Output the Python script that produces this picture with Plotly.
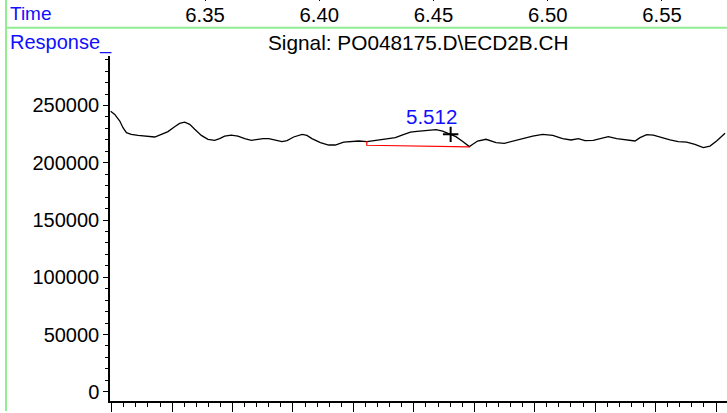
import plotly.graph_objects as go

W, H = 727, 413

# chromatogram trace (time in min, detector response)
time = [6.3087, 6.3105, 6.3127, 6.3141, 6.3156, 6.3177, 6.3207, 6.3236, 6.3265, 6.3280,
        6.3309, 6.3338, 6.3367, 6.3389, 6.3411, 6.3433, 6.3455, 6.3484, 6.3513, 6.3542,
        6.3564, 6.3586, 6.3615, 6.3644, 6.3674, 6.3703, 6.3732, 6.3754, 6.3779, 6.3808,
        6.3837, 6.3859, 6.3888, 6.3925, 6.3946, 6.3968, 6.4005, 6.4041, 6.4070, 6.4107,
        6.4143, 6.4173, 6.4209, 6.4245, 6.4289, 6.4333, 6.4362, 6.4399, 6.4428, 6.4467,
        6.4511, 6.4540, 6.4569, 6.4598, 6.4628, 6.4657, 6.4672, 6.4693, 6.4730, 6.4774,
        6.4810, 6.4847, 6.4890, 6.4934, 6.4978, 6.5022, 6.5065, 6.5102, 6.5134, 6.5163,
        6.5199, 6.5229, 6.5265, 6.5302, 6.5346, 6.5382, 6.5404, 6.5433, 6.5462, 6.5499,
        6.5535, 6.5571, 6.5608, 6.5644, 6.5681, 6.5710, 6.5739, 6.5776]
response = [245000, 242200, 236400, 230600, 226300, 224800, 223900, 223300, 222500, 222500,
            224800, 227200, 231500, 234400, 235500, 233500, 229200, 223900, 220500, 219600,
            221100, 223300, 224200, 223300, 221100, 219600, 220500, 221100, 221100, 219900,
            218500, 219300, 222500, 224800, 223900, 221100, 217600, 215500, 215500, 218100,
            218500, 219000, 218500, 219300, 220500, 221900, 224200, 226800, 227400, 228300,
            228900, 227700, 225400, 222800, 218500, 214100, 216100, 219000, 220500, 217600,
            217000, 219000, 221300, 223300, 224800, 223900, 221100, 219900, 221100, 219300,
            219600, 221300, 222800, 221100, 219900, 219000, 221900, 224600, 224200, 221900,
            219900, 218500, 218100, 216100, 213300, 214600, 219000, 225700]

# integration baseline
base_time = [6.4208, 6.4208, 6.4657]
base_resp = [219000, 215300, 213800]

# peak apex marker and label
peak_time = [6.4575]
peak_resp = [224800]
peak_label = "5.512"
label_time, label_resp = 6.4492, 240500

x_range = [6.30842, 6.57845]
y_range = [-7821, 293461]
time_ticks = [6.35, 6.40, 6.45, 6.50, 6.55]
resp_ticks = [0, 50000, 100000, 150000, 200000, 250000]

FONT = "Liberation Sans, Arial, sans-serif"
BLUE = "#1010ff"
GREEN = "#90ee90"


def px(x):
    return x / W


def py(y):
    return 1 - y / H


fig = go.Figure()
fig.add_trace(go.Scatter(x=time, y=response, mode="lines",
                         line=dict(color="black", width=1.3), hoverinfo="skip"))
fig.add_trace(go.Scatter(x=base_time, y=base_resp, mode="lines",
                         line=dict(color="#ff0000", width=1.2), hoverinfo="skip"))
fig.add_trace(go.Scatter(x=peak_time, y=peak_resp, mode="markers",
                         marker=dict(symbol="cross-thin", size=11,
                                     line=dict(color="black", width=2)),
                         hoverinfo="skip"))
# empty trace so the bottom tick scale gets drawn
fig.add_trace(go.Scatter(x=[None], y=[None], xaxis="x2", yaxis="y", mode="lines",
                         hoverinfo="skip"))

fig.add_annotation(x=label_time, y=label_resp, xref="x", yref="y", text=peak_label,
                   showarrow=False, font=dict(family=FONT, size=20.5, color=BLUE))

# header texts
fig.add_annotation(x=px(8), y=py(14), xref="paper", yref="paper", text="Time",
                   xanchor="left", yanchor="middle", showarrow=False,
                   font=dict(family=FONT, size=19, color=BLUE))
fig.add_annotation(x=px(8), y=py(43), xref="paper", yref="paper", text="Response_",
                   xanchor="left", yanchor="middle", showarrow=False,
                   font=dict(family=FONT, size=20, color=BLUE))
fig.add_annotation(x=px(418), y=py(43), xref="paper", yref="paper",
                   text="Signal: PO048175.D\\ECD2B.CH",
                   xanchor="center", yanchor="middle", showarrow=False,
                   font=dict(family=FONT, size=20.8, color="black"))

# green frame lines
fig.add_shape(type="line", xref="paper", yref="paper", x0=px(6), x1=px(6), y0=0, y1=1,
              line=dict(color=GREEN, width=2))
fig.add_shape(type="line", xref="paper", yref="paper", x0=px(6), x1=1, y0=py(28), y1=py(28),
              line=dict(color=GREEN, width=2))

fig.update_layout(
    width=W, height=H,
    margin=dict(l=0, r=0, t=0, b=0),
    paper_bgcolor="white", plot_bgcolor="white",
    showlegend=False,
    font=dict(family=FONT, size=20, color="black"),
    xaxis=dict(domain=[px(110), 1], range=x_range, anchor="free", position=py(1),
               side="bottom", tickvals=time_ticks, ticktext=[f"{t:.2f}" for t in time_ticks],
               ticks="inside", ticklen=8, tickcolor="black", showline=False,
               showgrid=False, zeroline=False,
               tickfont=dict(family=FONT, size=20.3, color="black")),
    xaxis2=dict(overlaying="x", anchor="y", side="bottom", range=[-0.14, 50.91],
                showline=True, linecolor="black", linewidth=1.5,
                ticks="outside", ticklen=10, tickwidth=1.2, tickcolor="black", dtick=5, tick0=0,
                minor=dict(ticks="outside", ticklen=5, dtick=1, tickcolor="black", tickwidth=1),
                showticklabels=False, showgrid=False, zeroline=False),
    yaxis=dict(domain=[py(402.7), py(56)], range=y_range, anchor="x",
               tickvals=resp_ticks, tickformat="d",
               showline=True, linecolor="black", linewidth=1.5,
               ticks="outside", ticklen=5, tickcolor="black",
               minor=dict(ticks="outside", ticklen=3, dtick=10000, tickcolor="black"),
               showgrid=False, zeroline=False,
               tickfont=dict(family=FONT, size=20, color="black")),
)

fig.write_html("out.html", config={"displayModeBar": False},
               post_script="document.body.style.margin='0';")
